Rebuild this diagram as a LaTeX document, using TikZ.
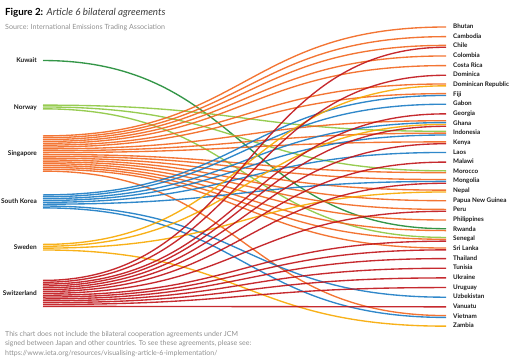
\documentclass[tikz,border=0pt]{standalone}
\usepackage{fontspec}
\setmainfont{Lato}
\usetikzlibrary{calc}

\definecolor{kwt}{HTML}{1E8B34}
\definecolor{nor}{HTML}{8CC63F}
\definecolor{sgp}{HTML}{F2661E}
\definecolor{kor}{HTML}{1A7BC4}
\definecolor{swe}{HTML}{F7A800}
\definecolor{che}{HTML}{C01318}
\definecolor{notegray}{HTML}{8F8F8F}
\definecolor{labelink}{HTML}{1A1A1A}

\tikzset{
  src/.style={anchor=east, inner sep=0pt, text=labelink,
    font=\fontsize{6.5}{7}\selectfont\bfseries},
  dst/.style={anchor=west, inner sep=0pt, text=labelink, text height=4.6pt, text depth=1.5pt,
    font=\fontsize{6.3}{7}\selectfont\bfseries},
  note/.style={anchor=base west, inner sep=0pt, text=notegray,
    font=\fontsize{7}{8}\selectfont},
  link/.style={line width=1.35pt, opacity=.9},
}

\begin{document}
\begin{tikzpicture}[x=1pt,y=-1pt]
\useasboundingbox (0,0) rectangle (512,362);

% title and source
\node[anchor=base west, inner sep=0pt] (title) at (5,15.5)
  {\fontsize{9.8}{11}\selectfont\textbf{Figure 2:} \textcolor{labelink!85}{\textit{Article 6 bilateral agreements}}};
\node[note, font=\fontsize{7.1}{8}\selectfont] (source) at (5,29)
  {Source: International Emissions Trading Association};

% countries on the left
\node[src] (kuwait) at (37,60.5) {Kuwait};
\node[src] (norway) at (37,107.5) {Norway};
\node[src] (singapore) at (37,154) {Singapore};
\node[src] (korea) at (37,201.5) {South Korea};
\node[src] (sweden) at (37,247) {Sweden};
\node[src] (switzerland) at (37,293) {Switzerland};

% top of each band
\coordinate (kwt-top) at (43,59.6);
\coordinate (nor-top) at (43,104.2);
\coordinate (sgp-top) at (43,135);
\coordinate (kor-top) at (43,194);
\coordinate (swe-top) at (43,243.5);
\coordinate (che-top) at (43,279.5);
\coordinate (mid) at (245,0);

% host countries on the right
\foreach \name [count=\c] in {Bhutan, Cambodia, Chile, Colombia, Costa Rica, Dominica,
    Dominican Republic, Fiji, Gabon, Georgia, Ghana, Indonesia, Kenya, Laos, Malawi,
    Morocco, Mongolia, Nepal, Papua New Guinea, Peru, Philippines, Rwanda, Senegal,
    Sri Lanka, Thailand, Tunisia, Ukraine, Uruguay, Uzbekistan, Vanuatu, Vietnam, Zambia}
  \node[dst] (c\c) at (453,{27+(\c-1)*9.65}) {\name};

% agreements: band / slot in band / host / slot at host / lines at host
\foreach \bnd/\k/\c/\s/\m in {
    kwt/1/22/0/2,
    nor/1/12/0/3, nor/2/16/0/2, nor/3/23/0/3,
    sgp/1/1/0/1, sgp/2/2/0/1, sgp/3/3/0/2, sgp/4/4/0/1, sgp/5/5/0/1,
    sgp/6/7/0/2, sgp/7/8/0/2, sgp/8/11/0/4, sgp/9/12/1/3, sgp/10/13/0/2,
    sgp/11/16/1/2, sgp/12/17/0/3, sgp/13/18/0/2, sgp/14/19/0/1, sgp/15/20/0/2,
    sgp/16/21/0/1, sgp/17/22/1/2, sgp/18/23/1/3, sgp/19/24/0/2, sgp/20/31/0/2,
    kor/1/8/1/2, kor/2/9/0/1, kor/3/11/1/4, kor/4/12/2/3, kor/5/14/0/1,
    kor/6/17/1/3, kor/7/29/0/1, kor/8/31/1/2,
    swe/1/7/1/2, swe/2/11/2/4, swe/3/18/1/2, swe/4/32/0/1,
    che/1/3/1/2, che/2/6/0/1, che/3/10/0/1, che/4/11/3/4, che/5/13/1/2,
    che/6/15/0/1, che/7/17/2/3, che/8/20/1/2, che/9/23/2/3, che/10/24/1/2,
    che/11/25/0/1, che/12/26/0/1, che/13/27/0/1, che/14/28/0/1, che/15/30/0/1}
{
  \path (\bnd-top) ++(0,{(\k-0.5)*1.85}) coordinate (a);
  \path (c\c.west) ++(-7,{(\s-(\m-1)/2)*1.85}) coordinate (b);
  \draw[link,\bnd] (a) .. controls (a -| mid) and (b -| mid) .. (b);
}

% note under the chart
\node[note] (note1) at (5,336) {This chart does not include the bilateral cooperation agreements under JCM};
\node[note] (note2) at (5,345.5) {signed between Japan and other countries. To see these agreements, please see:};
\node[note] (note3) at (5,355) {https://www.ieta.org/resources/visualising-article-6-implementation/};

\end{tikzpicture}
\end{document}
